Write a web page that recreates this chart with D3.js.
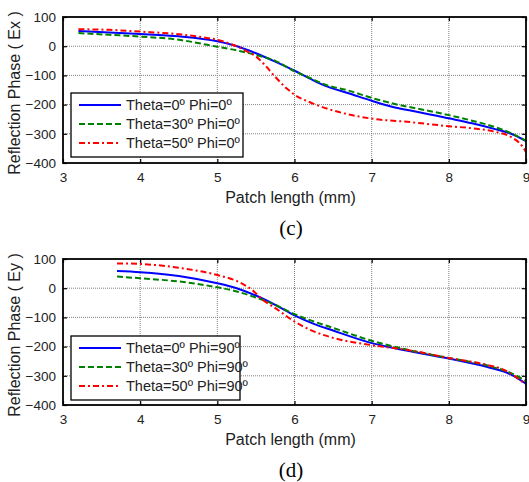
<!DOCTYPE html>
<html>
<head>
<meta charset="utf-8">
<script src="https://cdn.jsdelivr.net/npm/d3@7"></script>
<style>
  body { margin: 0; background: #fff; }
  svg { display: block; font-family: "Liberation Sans", Arial, sans-serif; }
</style>
</head>
<body>
<svg id="chart" width="529" height="482"></svg>
<script>
// Tick values
const xTicks = [3, 4, 5, 6, 7, 8, 9];
const yTicks = [100, 0, -100, -200, -300, -400];

// Panel (c): Ex, Phi = 0
const exTheta0 = [[3.2,52],[3.6,47],[4,42],[4.5,34],[5,17],[5.2,4],[5.5,-24],[5.75,-53],[6,-84],[6.2,-111],[6.4,-136],[6.7,-161],[7,-187],[7.3,-210],[7.6,-225],[8,-247],[8.3,-264],[8.6,-284],[8.8,-299],[9,-325]];
const exTheta30 = [[3.2,45],[3.6,39],[4,33],[4.5,22],[5,-2],[5.3,-17],[5.5,-30],[5.75,-50],[6,-86],[6.2,-109],[6.4,-132],[6.7,-152],[7,-177],[7.3,-198],[7.6,-214],[8,-236],[8.3,-255],[8.6,-277],[8.8,-297],[9,-324]];
const exTheta50 = [[3.2,58],[3.6,56],[4,50],[4.5,41],[4.8,31],[5,22],[5.2,5],[5.4,-20],[5.5,-35],[5.6,-60],[5.75,-105],[5.9,-145],[6,-166],[6.2,-192],[6.5,-220],[7,-248],[7.5,-260],[8,-274],[8.3,-281],[8.6,-293],[8.8,-310],[8.95,-342],[9,-362]];
const exLabels = ["Theta=0º Phi=0º", "Theta=30º Phi=0º", "Theta=50º Phi=0º"];

// Panel (d): Ey, Phi = 90
const eyTheta0 = [[3.7,59],[4,55],[4.5,42],[5,17],[5.25,0],[5.5,-25],[5.75,-57],[6,-93],[6.25,-122],[6.5,-145],[7,-188],[7.5,-216],[8,-241],[8.5,-270],[8.8,-295],[9,-327]];
const eyTheta30 = [[3.7,40],[4,34],[4.5,23],[5,3],[5.25,-11],[5.5,-32],[5.75,-57],[6,-89],[6.25,-114],[6.5,-136],[7,-180],[7.5,-213],[8,-239],[8.5,-265],[8.8,-290],[9,-318]];
const eyTheta50 = [[3.7,85],[4,83],[4.5,70],[5,45],[5.25,25],[5.45,-6],[5.6,-42],[5.75,-68],[6,-114],[6.25,-148],[6.5,-170],[7,-195],[7.5,-213],[8,-239],[8.5,-263],[8.7,-278],[9,-330]];
const eyLabels = ["Theta=0º Phi=90º", "Theta=30º Phi=90º", "Theta=50º Phi=90º"];

// Line styles for the three incidence angles
const styles = [
  {color: "#0000ff", dash: null},
  {color: "#008000", dash: "6,3"},
  {color: "#ff0000", dash: "6,3,2,3"}
];

const svg = d3.select("#chart");

function drawPanel(top, series, labels, yTitle, caption, legendTop, legendWidth) {
  const left = 63, width = 463, height = 146;

  let x = d3.scaleLinear().domain([3, 9]).range([left, left + width]);
  let y = d3.scaleLinear().domain([-400, 100]).range([top + height, top]);

  let g = svg.append("g");

  // Grid
  g.selectAll(".gx").data(xTicks.slice(1, -1)).enter().append("line")
    .attr("x1", d => x(d)).attr("x2", d => x(d))
    .attr("y1", top).attr("y2", top + height)
    .attr("stroke", "#808080").attr("stroke-width", 1).attr("stroke-dasharray", "1,1");
  g.selectAll(".gy").data(yTicks.slice(1, -1)).enter().append("line")
    .attr("x1", left).attr("x2", left + width)
    .attr("y1", d => y(d)).attr("y2", d => y(d))
    .attr("stroke", "#808080").attr("stroke-width", 1).attr("stroke-dasharray", "1,1");

  // Axes (ticks inward, on all four sides)
  let fmt = d3.format("d");
  let xAxisB = d3.axisBottom(x).tickValues(xTicks).tickFormat(fmt).tickSizeInner(-4).tickSizeOuter(0).tickPadding(9);
  let xAxisT = d3.axisTop(x).tickValues(xTicks).tickSizeInner(-4).tickSizeOuter(0).tickFormat("");
  let yAxisL = d3.axisLeft(y).tickValues(yTicks).tickFormat(fmt).tickSizeInner(-4).tickSizeOuter(0).tickPadding(7);
  let yAxisR = d3.axisRight(y).tickValues(yTicks).tickSizeInner(-4).tickSizeOuter(0).tickFormat("");

  [[xAxisB, "translate(0," + (top + height) + ")"],
   [xAxisT, "translate(0," + top + ")"],
   [yAxisL, "translate(" + left + ",0)"],
   [yAxisR, "translate(" + (left + width) + ",0)"]].forEach(([ax, tr]) => {
    let a = g.append("g").attr("transform", tr).call(ax);
    a.select(".domain").remove();
    a.selectAll("line").attr("stroke", "#000").attr("stroke-width", 1.2);
    a.selectAll("text").attr("fill", "#222").style("font-size", "13.5px")
      .style("font-family", "'Liberation Sans', Arial, sans-serif");
  });

  // Lines
  let line = d3.line().x(d => x(d[0])).y(d => y(d[1])).curve(d3.curveMonotoneX);
  series.forEach((s, i) => {
    g.append("path").datum(s)
      .attr("d", line)
      .attr("fill", "none")
      .attr("stroke", styles[i].color)
      .attr("stroke-width", 2)
      .attr("stroke-dasharray", styles[i].dash);
  });

  // Box
  g.append("rect")
    .attr("x", left).attr("y", top).attr("width", width).attr("height", height)
    .attr("fill", "none").attr("stroke", "#000").attr("stroke-width", 1.8);

  // Legend
  let lg = g.append("g");
  lg.append("rect")
    .attr("x", 71).attr("y", legendTop).attr("width", legendWidth).attr("height", 64)
    .attr("fill", "#fff").attr("stroke", "#000").attr("stroke-width", 1.3);
  labels.forEach((t, i) => {
    let ly = legendTop + 12 + i * 19;
    lg.append("line")
      .attr("x1", 79).attr("x2", 121).attr("y1", ly).attr("y2", ly)
      .attr("stroke", styles[i].color).attr("stroke-width", 2)
      .attr("stroke-dasharray", styles[i].dash);
    lg.append("text")
      .attr("x", 126).attr("y", ly + 5)
      .style("font-size", "14.5px").attr("fill", "#222")
      .text(t);
  });

  // Axis titles
  g.append("text")
    .attr("x", left + width / 2 - 4).attr("y", top + height + 40)
    .attr("text-anchor", "middle").style("font-size", "16px").attr("fill", "#222")
    .text("Patch length (mm)");
  g.append("text")
    .attr("transform", "translate(20," + (top + height / 2 + 3) + ") rotate(-90)")
    .attr("text-anchor", "middle").style("font-size", "16px").attr("fill", "#222")
    .text(yTitle);

  // Caption
  g.append("text")
    .attr("x", 291).attr("y", top + height + 72)
    .attr("text-anchor", "middle")
    .style("font-family", "'Liberation Serif', 'Times New Roman', serif")
    .style("font-size", "21px").attr("fill", "#000")
    .text(caption);
}

drawPanel(17, [exTheta0, exTheta30, exTheta50], exLabels, "Reflection Phase ( Ex )", "(c)", 93, 172);
drawPanel(259, [eyTheta0, eyTheta30, eyTheta50], eyLabels, "Reflection Phase ( Ey )", "(d)", 336, 169);
</script>
</body>
</html>
